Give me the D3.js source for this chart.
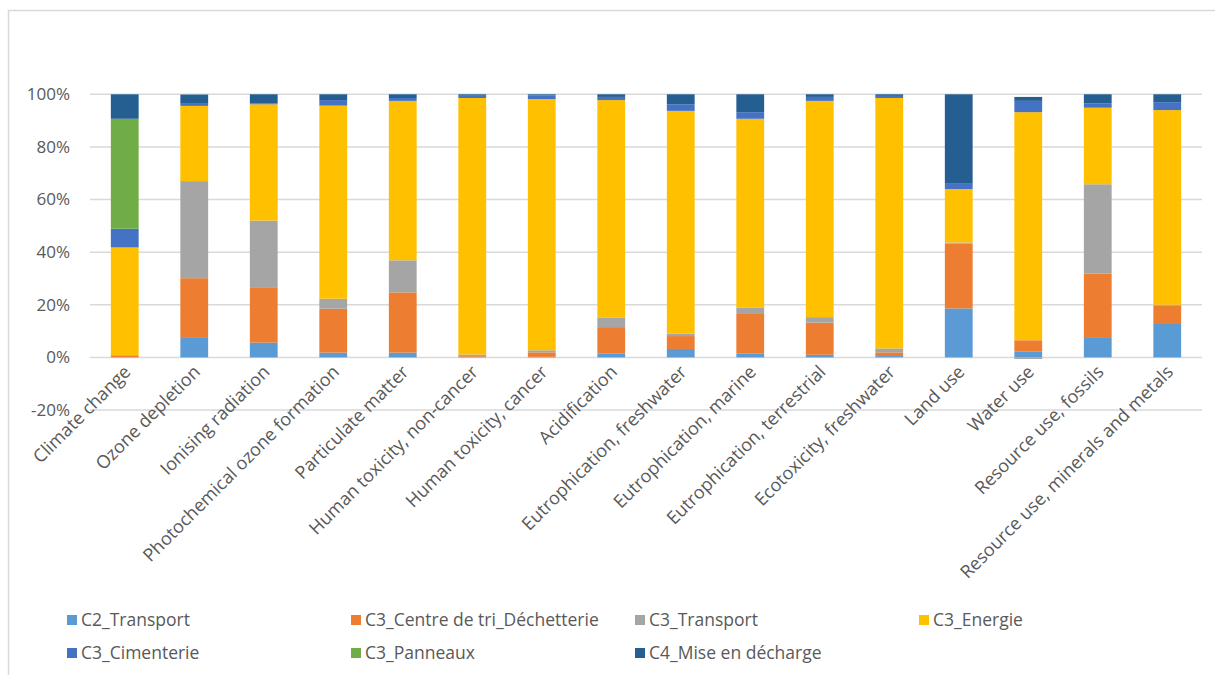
<!DOCTYPE html>
<html>
<head>
<meta charset="utf-8">
<script src="https://cdn.jsdelivr.net/npm/d3@7"></script>
<style>
  body { margin: 0; background: #fff; }
  text { font-family: "Open Sans", sans-serif; fill: #595959; }
</style>
</head>
<body>
<svg></svg>
<script>
const categories = ['Climate change', 'Ozone depletion', 'Ionising radiation', 'Photochemical ozone formation',
  'Particulate matter', 'Human toxicity, non-cancer', 'Human toxicity, cancer', 'Acidification',
  'Eutrophication, freshwater', 'Eutrophication, marine', 'Eutrophication, terrestrial', 'Ecotoxicity, freshwater',
  'Land use', 'Water use', 'Resource use, fossils', 'Resource use, minerals and metals'];

const seriesNames = ['C2_Transport', 'C3_Centre de tri_Déchetterie', 'C3_Transport', 'C3_Energie',
  'C3_Cimenterie', 'C3_Panneaux', 'C4_Mise en décharge'];

const colors = ['#5B9BD5', '#ED7D31', '#A5A5A5', '#FFC000', '#4472C4', '#70AD47', '#255E91'];

// percent share per stage, in category order
const c2Transport   = [0,    7.7, 5.6, 1.8, 1.8, 0.2, 0.2, 1.4, 3.2, 1.4, 1.0, 0.5, 18.6, 2.3, 7.7, 12.7];
const c3Centre      = [0.6, 22.4, 20.8, 16.7, 22.9, 0.3, 1.7, 10.1, 4.9, 15.1, 12.2, 1.4, 24.6, 4.2, 24.2, 7.1];
const c3Transport   = [0.3, 36.9, 25.6, 3.8, 12.2, 0.6, 0.8, 3.7, 0.9, 2.5, 2.1, 1.5, 0.5, -0.6, 33.9, 0.2];
const c3Energie     = [40.9, 28.6, 44.2, 73.4, 60.6, 97.5, 95.5, 82.6, 84.7, 71.7, 82.2, 95.2, 20.3, 86.7, 29.1, 74.0];
const c3Cimenterie  = [7.1, 0.8, 0.3, 2.1, 1.1, 1.1, 1.4, 1.2, 2.5, 2.5, 1.5, 0.8, 2.0, 4.3, 1.7, 3.0];
const c3Panneaux    = [41.8, 0, 0, 0, 0, 0, 0, 0, 0, 0, 0, 0, 0, 0, 0, 0];
const c4Decharge    = [9.3, 3.5, 3.5, 2.2, 1.4, 0.3, 0.4, 1.0, 3.8, 6.8, 1.0, 0.6, 34.0, 1.5, 3.4, 3.0];

const yTicks = [-20, 0, 20, 40, 60, 80, 100];

const seriesValues = [c2Transport, c3Centre, c3Transport, c3Energie, c3Cimenterie, c3Panneaux, c4Decharge];

const width = 1215, height = 675;
const svg = d3.select('svg').attr('width', width).attr('height', height);

// chart frame
svg.append('rect')
  .attr('x', 8.5).attr('y', 10.5)
  .attr('width', width + 10).attr('height', height + 10)
  .attr('fill', 'none').attr('stroke', '#d9d9d9').attr('stroke-width', 1.5);

const table = categories.map((c, i) => {
  const row = { category: c };
  seriesNames.forEach((s, j) => { row[s] = seriesValues[j][i]; });
  return row;
});

const x = d3.scaleBand().domain(categories).range([90, 1202]).paddingInner(0.6).paddingOuter(0.3);
const y = d3.scaleLinear().domain([-20, 100]).range([410, 94.3]);

// gridlines
svg.append('g').selectAll('line').data(yTicks).join('line')
  .attr('x1', 90).attr('x2', 1202)
  .attr('y1', d => y(d)).attr('y2', d => y(d))
  .attr('stroke', '#d9d9d9').attr('stroke-width', 1.5);

// y labels
svg.append('g').selectAll('text').data(yTicks).join('text')
  .attr('x', 70).attr('y', d => y(d))
  .attr('dy', '0.35em')
  .attr('text-anchor', 'end')
  .style('font-size', '17px')
  .text(d => d + '%');

const stack = d3.stack().keys(seriesNames).offset(d3.stackOffsetDiverging);
const layers = stack(table);

svg.append('g').selectAll('g').data(layers).join('g')
  .attr('fill', (d, i) => colors[i])
  .selectAll('rect').data(d => d).join('rect')
  .attr('x', d => x(d.data.category))
  .attr('width', x.bandwidth())
  .attr('y', d => y(Math.max(d[0], d[1])))
  .attr('height', d => Math.abs(y(d[0]) - y(d[1])));

// category labels
svg.append('g').selectAll('text').data(categories).join('text')
  .attr('transform', d => `translate(${x(d) + x.bandwidth() / 2 + 7},${373}) rotate(-45)`)
  .attr('text-anchor', 'end')
  .style('font-size', '18px')
  .text(d => d);

// legend
const legend = svg.append('g').selectAll('g').data(seriesNames).join('g')
  .attr('transform', (d, i) => `translate(${67 + (i % 4) * 284},${i < 4 ? 620 : 653})`);

legend.append('rect')
  .attr('x', 0).attr('y', -5).attr('width', 10).attr('height', 10)
  .attr('fill', (d, i) => colors[i]);

legend.append('text')
  .attr('x', 14).attr('dy', '0.35em')
  .style('font-size', '17.5px')
  .text(d => d);
</script>
</body>
</html>
